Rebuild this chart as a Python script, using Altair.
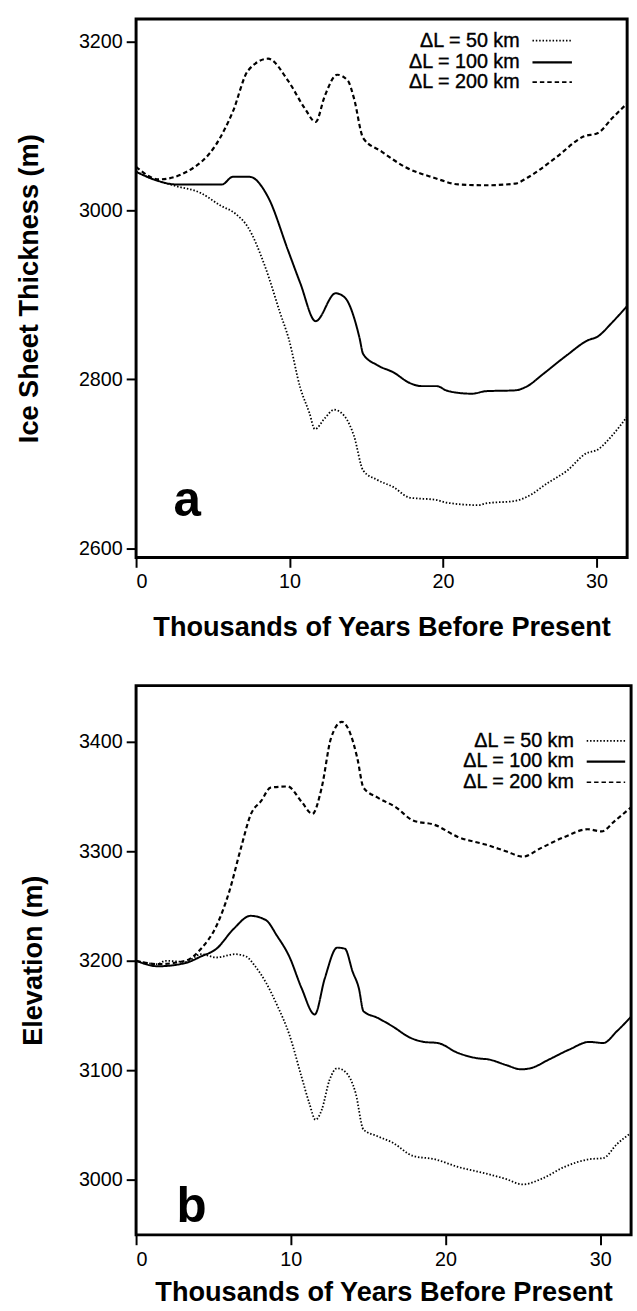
import altair as alt
import pandas as pd

series_names = ["ΔL = 50 km", "ΔL = 100 km", "ΔL = 200 km"]

# ---------- Panel a : ice sheet thickness (m) ----------
a50_t = [0, 1.3, 2.6, 4.2, 5.5, 6.5, 7.3, 8.4, 9.4, 9.95, 10.7, 11.3, 11.65, 12.3, 12.9, 13.6, 14.2, 14.8, 15.7, 16.8, 17.8, 19.6, 20.2, 22.3, 22.8, 24.7, 25.5, 26.8, 28.1, 29.3, 30.1, 31.0, 32.0]
a50_v = [3046, 3036, 3029, 3021, 3006, 2996, 2980, 2934, 2878, 2848, 2790, 2760, 2741, 2754, 2764, 2756, 2733, 2692, 2681, 2672, 2660, 2657, 2654, 2651, 2653, 2656, 2661, 2677, 2692, 2712, 2717, 2733, 2756]

a100_t = [0, 1.3, 2.6, 5.6, 6.3, 7.4, 8.6, 9.9, 10.7, 11.7, 13.0, 13.6, 14.55, 14.8, 15.7, 16.8, 17.8, 18.6, 19.6, 20.2, 21.0, 21.9, 22.8, 24.7, 25.5, 26.5, 28.1, 29.4, 30.1, 31.0, 32.0]
a100_v = [3046, 3036, 3031, 3031, 3040, 3040, 3016, 2953, 2914, 2869, 2902, 2897, 2850, 2830, 2817, 2808, 2796, 2792, 2792, 2787, 2784, 2783, 2786, 2787, 2792, 2806, 2829, 2846, 2851, 2867, 2887]

a200_t = [0, 1.5, 3.4, 5.2, 6.3, 7.3, 8.6, 9.9, 11.0, 11.7, 12.3, 13.1, 13.8, 14.2, 14.8, 16.0, 17.6, 19.4, 21.0, 22.8, 24.7, 25.5, 27.3, 29.2, 30.1, 31.0, 32.0]
a200_v = [3052, 3037, 3047, 3078, 3117, 3166, 3180, 3154, 3121, 3105, 3136, 3161, 3154, 3133, 3086, 3070, 3051, 3039, 3031, 3030, 3032, 3039, 3062, 3088, 3092, 3109, 3127]

# ---------- Panel b : surface elevation (m) ----------
b50_t = [0, 1.4, 1.9, 3.2, 4.2, 5.2, 6.4, 7.1, 7.7, 8.4, 9.1, 9.9, 10.7, 11.2, 11.6, 12.0, 12.5, 13.0, 13.5, 14.2, 14.7, 15.6, 16.6, 17.9, 19.3, 20.8, 22.6, 23.9, 25.0, 26.2, 27.7, 29.3, 30.2, 31.1, 32.0]
b50_v = [3200, 3197, 3200, 3199, 3206, 3203, 3206, 3204, 3195, 3180, 3160, 3133, 3094, 3070, 3055, 3064, 3091, 3102, 3099, 3079, 3046, 3040, 3034, 3022, 3019, 3012, 3006, 3001, 2996, 3001, 3012, 3019, 3020, 3033, 3043]

b100_t = [0, 1.4, 3.2, 4.2, 5.2, 6.3, 7.4, 8.4, 9.1, 9.9, 10.7, 11.55, 12.2, 13.0, 13.5, 14.0, 14.4, 14.7, 15.6, 16.6, 17.7, 18.6, 19.5, 20.8, 22.1, 22.8, 23.9, 24.9, 25.5, 26.7, 28.0, 29.3, 30.2, 31.1, 32.0]
b100_v = [3200, 3195, 3198, 3204, 3211, 3229, 3241, 3237, 3223, 3204, 3175, 3151, 3184, 3212, 3211, 3190, 3175, 3154, 3148, 3140, 3130, 3126, 3125, 3116, 3111, 3110, 3105, 3101, 3102, 3110, 3119, 3126, 3125, 3136, 3149]

b200_t = [0, 1.4, 3.2, 4.2, 5.2, 6.0, 6.8, 7.4, 8.1, 8.7, 9.8, 10.7, 11.4, 12.0, 12.6, 13.3, 13.8, 14.3, 14.7, 15.6, 16.8, 17.9, 19.3, 20.8, 22.6, 23.9, 25.0, 26.2, 27.7, 29.2, 30.1, 30.9, 32.0]
b200_v = [3200, 3197, 3200, 3211, 3232, 3262, 3304, 3333, 3346, 3358, 3359, 3345, 3334, 3358, 3403, 3418, 3409, 3385, 3358, 3349, 3340, 3328, 3324, 3313, 3306, 3300, 3295, 3303, 3313, 3320, 3318, 3327, 3340]

a_yticks = [2600, 2800, 3000, 3200]
b_yticks = [3000, 3100, 3200, 3300, 3400]
x_ticks = [0, 10, 20, 30]

dash_range = [[1.5, 1.9], [1, 0], [4.5, 3]]
width_range = [1.8, 2.2, 1.6]

one_row = pd.DataFrame({"k": [0]})


def long_df(ts, vs):
    rows = []
    for name, t, v in zip(series_names, ts, vs):
        for ti, vi in zip(t, v):
            rows.append({"series": name, "t": ti, "v": vi})
    return pd.DataFrame(rows)


def panel(df, ydomain, yticks, ytitle, w, h, y_title_pad, x_title_pad,
          leg_x, leg_y, leg_line, label, label_xy):
    x = alt.X("t:Q", scale=alt.Scale(domain=[0, 32], nice=False, zero=False),
              axis=alt.Axis(values=x_ticks, title="Thousands of Years Before Present",
                            format="d", labelPadding=5, titlePadding=x_title_pad))
    y = alt.Y("v:Q", scale=alt.Scale(domain=ydomain, nice=False, zero=False),
              axis=alt.Axis(values=yticks, title=ytitle, format="d", labelPadding=4,
                            titlePadding=y_title_pad))
    lines = alt.Chart(df).mark_line(color="black", interpolate="monotone").encode(
        x=x, y=y,
        detail="series:N",
        strokeDash=alt.StrokeDash("series:N", scale=alt.Scale(domain=series_names, range=dash_range), legend=None),
        strokeWidth=alt.StrokeWidth("series:N", scale=alt.Scale(domain=series_names, range=width_range), legend=None),
    )
    layers = [lines]
    for i, name in enumerate(series_names):
        yy = leg_y[i]
        layers.append(alt.Chart(one_row).mark_text(text=name, align="right", baseline="middle",
                                                   fontSize=20, font="Liberation Sans", color="black",
                                                   stroke="black", strokeWidth=0.4).encode(
            x=alt.value(leg_x), y=alt.value(yy)))
        layers.append(alt.Chart(one_row).mark_rule(color="black", strokeDash=dash_range[i],
                                                   strokeWidth=width_range[i]).encode(
            x=alt.value(leg_line[0]), x2=alt.value(leg_line[1]), y=alt.value(yy)))
    layers.append(alt.Chart(one_row).mark_text(text=label, align="left", baseline="alphabetic",
                                               fontSize=50, fontWeight="bold", font="Liberation Sans",
                                               color="black").encode(
        x=alt.value(label_xy[0]), y=alt.value(label_xy[1])))
    return alt.layer(*layers).properties(width=w, height=h)


df_a = long_df([a50_t, a100_t, a200_t], [a50_v, a100_v, a200_v])
df_b = long_df([b50_t, b100_t, b200_t], [b50_v, b100_v, b200_v])

pa = panel(df_a, [2589, 3227], a_yticks, "Ice Sheet Thickness (m)", 498, 546, 35, 22.5,
           389, [22, 44, 64], [402, 442], "a", [38, 504])
pb = panel(df_b, [2950, 3451], b_yticks, "Elevation (m)", 502, 557, 31.5, 10,
           444, [56, 77, 98], [457, 496], "b", [41, 544])

chart = alt.vconcat(pa, pb, spacing=41).properties(
    padding={"top": 8, "left": 15, "right": 0, "bottom": 0}
).configure_view(stroke="black", strokeWidth=3).configure_axis(
    domain=False, grid=False, tickColor="black", tickWidth=2, tickSize=10,
    labelFont="Liberation Sans", labelFontSize=20, labelColor="black",
    titleFont="Liberation Sans", titleFontSize=27.5, titleFontWeight="bold", titleColor="black"
)

chart.save("out.html", embed_options={"renderer": "svg", "actions": False})
